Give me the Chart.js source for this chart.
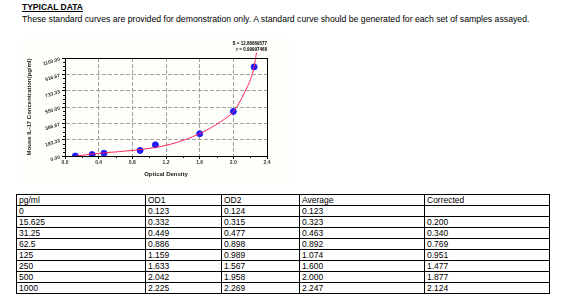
<!DOCTYPE html>
<html>
<head>
<meta charset="utf-8">
<title>Typical data</title>
<script src="https://cdn.jsdelivr.net/npm/chart.js@4.4.0/dist/chart.umd.min.js"></script>
<style>
  body { margin: 0; width: 565px; height: 300px; background: #fff; position: relative; overflow: hidden;
         font-family: "Liberation Sans", Arial, sans-serif; color: #000; }
  .title { position: absolute; left: 22px; top: 2px; font-size: 8.5px; font-weight: bold; text-decoration: underline; }
  .sub { position: absolute; left: 22px; top: 14px; font-size: 8.7px; white-space: nowrap; }
  .panel { position: absolute; left: 20px; top: 38px; width: 270px; height: 145px; background: #fefefa; }
  #chart { position: absolute; left: 0; top: 30px; }
  .fit { position: absolute; right: 298px; font-size: 4.5px; font-weight: bold; white-space: nowrap; }
  table { position: absolute; left: 16px; top: 194px; width: 533px; border-collapse: collapse; font-size: 8.5px; table-layout: fixed; }
  td { border: 1px solid #000; height: 10px; line-height: 10px; padding: 0 2px; vertical-align: bottom; white-space: nowrap; }
</style>
</head>
<body>
<div class="title">TYPICAL DATA</div>
<div class="sub">These standard curves are provided for demonstration only. A standard curve should be generated for each set of samples assayed.</div>
<div class="panel"></div>
<canvas id="chart" width="300" height="155"></canvas>
<div class="fit" style="top:41px">S = 12.86669577</div>
<div class="fit" style="top:47px">r = 0.99997468</div>
<table id="tbl">
  <colgroup><col style="width:129px"><col style="width:76px"><col style="width:78px"><col style="width:125px"><col style="width:125px"></colgroup>
</table>
<script>
// standards table
const headers = ["pg/ml", "OD1", "OD2", "Average", "Corrected"];
const conc = ["0", "15.625", "31.25", "62.5", "125", "250", "500", "1000"];
const od1 = ["0.123", "0.332", "0.449", "0.886", "1.159", "1.633", "2.042", "2.225"];
const od2 = ["0.124", "0.315", "0.477", "0.898", "0.989", "1.567", "1.958", "2.269"];
const average = ["0.123", "0.323", "0.463", "0.892", "1.074", "1.600", "2.000", "2.247"];
const corrected = ["", "0.200", "0.340", "0.769", "0.951", "1.477", "1.877", "2.124"];

// fitted curve
const curveOD = [0.13, 0.44, 0.85, 1.25, 1.60, 1.85, 2.00, 2.13, 2.247, 2.275];
const curveConc = [0, 34, 67, 131, 251, 386, 499, 706, 999, 1160];

// axes
const xTicks = [0, 0.4, 0.8, 1.2, 1.6, 2.0, 2.4];
const yTicks = [0, 183.33, 366.67, 550, 733.33, 916.67, 1100];
const yTickLabels = ["0.00", "183.33", "366.67", "550.00", "733.33", "916.67", "1100.00"];

const tbl = document.getElementById("tbl");
const rows = [headers].concat(conc.map((c, i) => [c, od1[i], od2[i], average[i], corrected[i]]));
rows.forEach(r => {
  const tr = document.createElement("tr");
  r.forEach(v => {
    const td = document.createElement("td");
    td.textContent = v;
    tr.appendChild(td);
  });
  tbl.appendChild(tr);
});

const points = average.map((a, i) => ({ x: parseFloat(a), y: parseFloat(conc[i]) }));
const curve = curveOD.map((x, i) => ({ x: x, y: curveConc[i] }));

const tickFont = { family: "Liberation Sans", size: 5, weight: "bold" };

// frame, minor ticks and slanted y labels
const frame = {
  id: "frame",
  afterDraw(chart) {
    const { ctx, chartArea: a, scales: { x, y } } = chart;
    ctx.save();
    ctx.strokeStyle = "#000";
    ctx.lineWidth = 1;
    ctx.strokeRect(Math.round(a.left) + 0.5, Math.round(a.top) + 0.5, Math.round(a.right - a.left), Math.round(a.bottom - a.top));
    ctx.beginPath();
    for (let i = 0; i < xTicks.length - 1; i++) {
      const px = Math.round(x.getPixelForValue((xTicks[i] + xTicks[i + 1]) / 2)) + 0.5;
      ctx.moveTo(px, a.bottom);
      ctx.lineTo(px, a.bottom + 2);
    }
    for (let i = 0; i < yTicks.length - 1; i++) {
      for (let k = 1; k < 4; k++) {
        const py = Math.round(y.getPixelForValue(yTicks[i] + (yTicks[i + 1] - yTicks[i]) * k / 4)) + 0.5;
        ctx.moveTo(a.left, py);
        ctx.lineTo(a.left - 2, py);
      }
    }
    ctx.stroke();
    ctx.font = "bold 5px 'Liberation Sans'";
    ctx.fillStyle = "#333";
    ctx.textAlign = "right";
    ctx.textBaseline = "middle";
    yTicks.forEach((v, i) => {
      ctx.save();
      ctx.translate(a.left - 5, y.getPixelForValue(v) + 1);
      ctx.rotate(-0.3);
      ctx.fillText(yTickLabels[i], 0, 0);
      ctx.restore();
    });
    ctx.restore();
  }
};

new Chart(document.getElementById("chart"), {
  type: "scatter",
  data: {
    datasets: [
      {
        type: "line",
        data: curve,
        borderColor: "rgba(255, 20, 70, 0.9)",
        borderWidth: 1,
        pointRadius: 0,
        cubicInterpolationMode: "monotone",
        clip: false,
        order: 0
      },
      {
        data: points,
        backgroundColor: "#1d1dff",
        borderColor: "#1d1dff",
        pointRadius: 3,
        order: 1
      }
    ]
  },
  options: {
    responsive: false,
    animation: false,
    devicePixelRatio: 1,
    layout: { padding: { left: 0, right: 33, top: 28, bottom: 0 } },
    plugins: { legend: { display: false }, tooltip: { enabled: false } },
    scales: {
      x: {
        type: "linear",
        min: 0,
        max: 2.4,
        afterFit: s => { s.height = 29; },
        afterBuildTicks: s => { s.ticks = xTicks.map(v => ({ value: v })); },
        ticks: { font: tickFont, color: "#333", padding: 1, maxRotation: 0, autoSkip: false,
                 callback: v => Number(v).toFixed(1) },
        grid: { color: "#a0a0a0", tickColor: "#000", tickLength: 3 },
        border: { color: "#000", width: 1, dash: [4, 2] },
        title: { display: true, text: "Optical Density", color: "#222",
                 font: { family: "Liberation Sans", size: 6, weight: "bold" }, padding: { top: 0, bottom: 7 } }
      },
      y: {
        type: "linear",
        min: 0,
        max: 1100,
        afterFit: s => { s.width = 65; },
        afterBuildTicks: s => { s.ticks = yTicks.map(v => ({ value: v })); },
        ticks: { display: false },
        grid: { color: "#a0a0a0", tickColor: "#000", tickLength: 3 },
        border: { color: "#000", width: 1, dash: [4, 2] },
        title: { display: true, text: "Mouse IL-17 Concentration(pg/ml)", color: "#222",
                 font: { family: "Liberation Sans", size: 6, weight: "bold" }, padding: { top: 26, bottom: 0 } }
      }
    }
  },
  plugins: [frame]
});
</script>
</body>
</html>
